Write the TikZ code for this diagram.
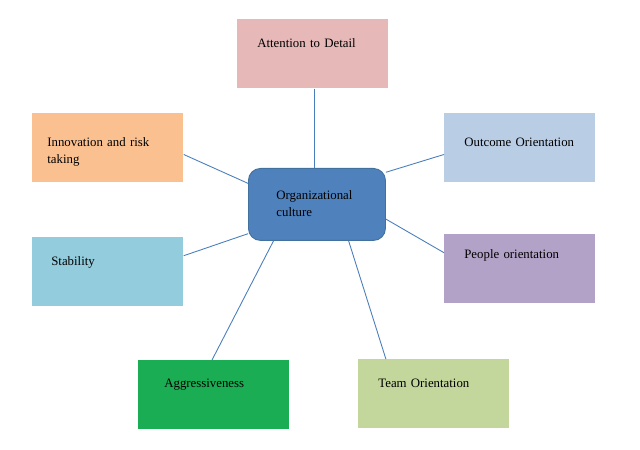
\documentclass[tikz,border=0pt]{standalone}
\usepackage{fontspec}
\setmainfont{Liberation Serif}
\usepackage{xcolor}
\usepackage{tikz}
\usetikzlibrary{positioning,calc}

\definecolor{attncol}{HTML}{E6B9B8}
\definecolor{innocol}{HTML}{FAC090}
\definecolor{outccol}{HTML}{B9CDE5}
\definecolor{stabcol}{HTML}{93CDDD}
\definecolor{pplcol}{HTML}{B3A2C7}
\definecolor{aggrcol}{HTML}{1BAD54}
\definecolor{teamcol}{HTML}{C3D69B}
\definecolor{corefill}{HTML}{4F81BD}
\definecolor{coreedge}{HTML}{41719C}
\definecolor{linkcol}{HTML}{4A7EBB}

\newcommand{\boxfont}{\fontsize{7.3}{9.6}\selectfont}

\begin{document}
\begin{tikzpicture}[
  x=0.2mm, y=-0.2mm,
  box/.style={anchor=north west, inner xsep=4mm, inner ysep=0pt,
              text width=22.2mm, text height=5.6mm, text depth=8.2mm,
              align=left, font=\boxfont},
  core/.style={anchor=north west, draw=coreedge, fill=corefill,
               rounded corners=2.4mm, line width=0.5pt,
               inner xsep=5.6mm, inner ysep=0pt, text width=16.2mm,
               text height=6.2mm, text depth=8.2mm, align=left, font=\boxfont},
  ln/.style={draw=linkcol, line width=0.5pt}
]
  \useasboundingbox (0,0) rectangle (640,450);

  \node[core] (org) at (248,168) {Organizational\\culture};

  \node[box, fill=attncol] (attn) at (237,19) {Attention to Detail};
  \node[box, fill=innocol, inner xsep=3mm, text width=24.2mm,
        text height=6.6mm, text depth=7.2mm] (innov) at (32,113)
        {Innovation and risk\\taking};
  \node[box, fill=outccol, text height=6.6mm, text depth=7.2mm]
        (outc) at (444,113) {Outcome Orientation};
  \node[box, fill=stabcol, inner xsep=3.8mm, text width=22.6mm]
        (stab) at (32,237) {Stability};
  \node[box, fill=pplcol, text height=4.8mm, text depth=9mm]
        (ppl) at (444,234) {People orientation};
  \node[box, fill=aggrcol, inner xsep=5.2mm, text width=19.8mm,
        text height=5.4mm, text depth=8.4mm] (aggr) at (138,360)
        {Aggressiveness};
  \node[box, fill=teamcol] (team) at (358,359) {Team Orientation};

  % spokes
  \coordinate (attnfoot) at ($(attn.south)+(1.5,0)$);
  \draw[ln] (attnfoot) -- (attnfoot |- org.north);
  \draw[ln] (org.163) -- (innov.-5);
  \draw[ln] (org.25) -- (outc.185);
  \draw[ln] (org.203) -- (stab.12);
  \draw[ln] (org.-12) -- (ppl.168);
  \draw[ln] (org.220) -- (aggr.93);
  \draw[ln] (org.-49) -- (team.144);
\end{tikzpicture}
\end{document}
